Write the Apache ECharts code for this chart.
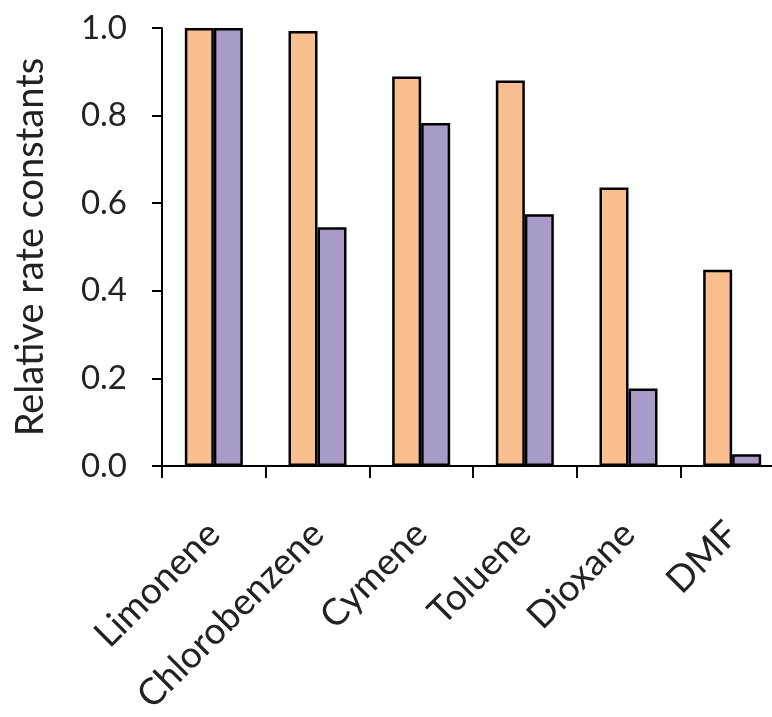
<!DOCTYPE html>
<html>
<head>
<meta charset="utf-8">
<style>html,body{margin:0;padding:0;background:#fff;overflow:hidden;width:772px;height:717px}#c{width:784px;height:717px}</style>
<script src="https://cdn.jsdelivr.net/npm/echarts@6/dist/echarts.min.js"></script>
</head>
<body>
<div id="c"></div>
<script>
const categories = ['Limonene', 'Chlorobenzene', 'Cymene', 'Toluene', 'Dioxane', 'DMF'];
const seriesA = [1.0, 0.993, 0.889, 0.880, 0.636, 0.448];
const seriesB = [1.0, 0.545, 0.783, 0.575, 0.177, 0.027];
const yTicks = [0, 0.2, 0.4, 0.6, 0.8, 1.0];

const FONT = 'Lato';
const chart = echarts.init(document.getElementById('c'), null, {renderer: 'canvas'});
chart.setOption({
  animation: false,
  backgroundColor: '#fff',
  grid: {left: 162, top: 28, bottom: 247, right: 0, containLabel: false},
  xAxis: {
    type: 'category',
    data: categories,
    axisLine: {lineStyle: {color: '#000', width: 2}},
    axisTick: {show: true, length: 12, lineStyle: {color: '#000', width: 2}},
    axisLabel: {rotate: 45, margin: 62, fontFamily: FONT, fontSize: 37, color: '#222', interval: 0}
  },
  yAxis: {
    type: 'value',
    min: yTicks[0],
    max: yTicks[yTicks.length - 1],
    interval: 0.2,
    name: 'Relative rate constants',
    nameLocation: 'middle',
    nameGap: 112,
    nameTextStyle: {fontFamily: FONT, fontSize: 38, color: '#222'},
    axisLine: {show: true, lineStyle: {color: '#000', width: 2}},
    axisTick: {show: true, length: 10, lineStyle: {color: '#000', width: 2}},
    splitLine: {show: false},
    axisLabel: {margin: 35, fontFamily: FONT, fontSize: 33, color: '#222', formatter: v => v.toFixed(1)}
  },
  series: [
    {type: 'bar', data: seriesA, barWidth: 29, barGap: '0%',
     itemStyle: {color: '#F9BF8F', borderColor: '#000', borderWidth: 2.5}},
    {type: 'bar', data: seriesB, barWidth: 29,
     itemStyle: {color: '#A99BC8', borderColor: '#000', borderWidth: 2.5}}
  ]
});
</script>
</body>
</html>
